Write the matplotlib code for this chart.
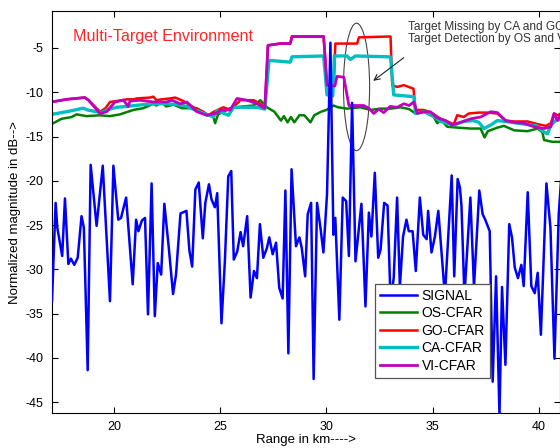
import matplotlib
matplotlib.use("Agg")
import matplotlib.pyplot as plt
from matplotlib.patches import Ellipse

plt.rcParams['font.family'] = ['Liberation Sans', 'DejaVu Sans']
plt.rcParams['axes.unicode_minus'] = False

# received signal (range km, normalized dB)
sig_x = [17.08, 17.25, 17.33, 17.56, 17.69, 17.85, 17.97, 18.13, 18.29, 18.47, 18.58, 18.76,
         18.90, 19.18, 19.47, 19.81, 19.97, 20.20, 20.33, 20.57, 20.88, 21.04, 21.15, 21.31,
         21.46, 21.60, 21.77, 21.92, 22.06, 22.22, 22.37, 22.58, 22.78, 22.92, 23.13, 23.41,
         23.55, 23.68, 23.83, 23.99, 24.18, 24.30, 24.47, 24.59, 24.75, 24.86, 25.06, 25.22,
         25.38, 25.52, 25.64, 25.80, 25.96, 26.08, 26.27, 26.43, 26.59, 26.73, 26.87, 27.03,
         27.20, 27.31, 27.47, 27.63, 27.78, 27.94, 28.07, 28.21, 28.36, 28.57, 28.73, 28.84,
         29.00, 29.12, 29.28, 29.40, 29.56, 29.72, 29.86, 30.03, 30.19, 30.33, 30.42, 30.61,
         30.77, 30.93, 31.06, 31.21, 31.37, 31.65, 31.84, 32.00, 32.12, 32.28, 32.44, 32.55,
         32.72, 32.88, 33.02, 33.17, 33.33, 33.46, 33.61, 33.77, 33.88, 34.06, 34.21, 34.40,
         34.56, 34.72, 34.79, 34.95, 35.11, 35.27, 35.42, 35.58, 35.90, 36.02, 36.18, 36.29,
         36.36, 36.50, 36.78, 36.95, 37.20, 37.36, 37.48, 37.69, 37.83, 37.99, 38.15, 38.27,
         38.43, 38.61, 38.74, 38.87, 39.02, 39.18, 39.29, 39.48, 39.65, 39.81, 39.95, 40.10,
         40.36, 40.55, 40.74, 40.94, 41.05]
sig_y = [-33.6, -22.5, -25.3, -28.5, -22.0, -29.4, -28.8, -29.5, -28.7, -24.0, -25.3, -41.4,
         -18.2, -25.1, -18.3, -33.6, -18.3, -24.4, -24.2, -21.9, -31.7, -24.4, -25.7, -24.5,
         -24.2, -35.1, -20.3, -35.3, -29.3, -30.6, -22.6, -27.6, -32.8, -30.6, -23.7, -23.4,
         -27.9, -29.7, -21.0, -20.2, -26.5, -22.5, -20.4, -22.1, -23.0, -21.4, -36.1, -29.1,
         -19.5, -18.9, -28.9, -28.0, -25.8, -27.4, -24.0, -33.2, -30.2, -31.0, -24.9, -28.7,
         -27.6, -26.4, -28.3, -27.0, -32.1, -33.3, -21.1, -39.5, -18.7, -27.4, -26.4, -27.6,
         -30.8, -23.8, -22.5, -42.4, -22.5, -25.3, -28.1, -21.5, -4.4, -26.1, -24.2, -35.7,
         -21.9, -22.3, -28.5, -11.2, -29.1, -22.6, -34.2, -23.6, -26.3, -19.1, -28.7, -27.8,
         -22.5, -22.8, -33.5, -31.0, -21.9, -32.0, -26.3, -24.4, -25.7, -25.7, -30.2, -21.9,
         -26.1, -26.6, -23.4, -28.1, -26.3, -23.4, -28.0, -33.0, -19.4, -30.8, -19.8, -20.8,
         -22.8, -33.0, -21.9, -32.0, -21.1, -23.8, -24.4, -25.7, -42.7, -30.8, -46.5, -32.0,
         -40.8, -24.9, -26.4, -29.8, -31.0, -29.5, -31.9, -21.3, -31.9, -32.7, -30.4, -37.4,
         -20.3, -25.3, -40.1, -23.8, -20.0]

# OS-CFAR threshold
os_x = [17.06, 17.53, 18.00, 18.24, 18.71, 19.34, 19.80, 20.28, 20.91, 21.38, 21.85, 22.00,
        22.25, 22.45, 22.80, 23.20, 23.90, 24.37, 24.65, 24.76, 24.90, 25.47, 26.10, 26.57,
        26.89, 27.20, 27.55, 27.86, 28.00, 28.17, 28.33, 28.49, 28.73, 28.96, 29.25, 29.43,
        29.75, 30.00, 30.34, 30.55, 30.97, 31.60, 32.08, 32.55, 33.02, 33.50, 33.89, 34.20,
        34.60, 35.06, 35.22, 35.40, 35.69, 36.20, 36.79, 37.26, 37.45, 37.60, 38.05, 38.36,
        38.84, 39.47, 39.94, 40.17, 40.25, 40.64, 41.05]
os_y = [-13.6, -13.0, -12.8, -12.5, -12.7, -12.6, -12.7, -12.5, -12.0, -11.8, -11.3, -11.5,
        -11.1, -11.6, -11.4, -11.8, -11.8, -12.6, -12.5, -13.5, -12.5, -11.8, -11.6, -11.5,
        -10.9, -11.7, -12.2, -13.2, -12.7, -13.4, -12.8, -13.4, -12.6, -12.6, -13.4, -12.6,
        -12.2, -12.0, -11.5, -11.7, -11.85, -11.7, -12.0, -11.85, -11.85, -11.7, -11.9, -12.4,
        -12.2, -12.8, -13.5, -13.1, -13.9, -14.0, -14.1, -14.1, -15.1, -14.4, -14.0, -13.8,
        -14.3, -14.4, -14.1, -14.5, -15.4, -15.6, -15.6]

# GO-CFAR threshold
go_x = [17.06, 17.77, 18.63, 18.80, 19.34, 19.60, 19.81, 20.12, 20.60, 20.91, 21.07, 21.70,
        21.85, 22.00, 22.25, 22.64, 22.88, 23.27, 23.74, 24.21, 24.44, 24.70, 25.15, 25.50,
        25.94, 26.57, 26.89, 27.10, 27.25, 27.83, 28.30, 28.38, 29.87, 30.03, 30.35, 30.42,
        31.45, 31.53, 33.02, 33.10, 33.33, 33.65, 34.10, 34.20, 34.59, 35.00, 35.38, 36.00,
        36.16, 36.47, 36.70, 37.18, 37.58, 38.05, 38.44, 38.84, 39.47, 39.94, 40.33, 40.57,
        40.72, 40.88, 41.05]
go_y = [-11.1, -10.8, -10.6, -10.9, -12.2, -11.8, -11.1, -11.0, -10.8, -10.8, -10.7, -10.6,
        -10.5, -10.9, -10.8, -10.7, -10.6, -11.0, -11.7, -12.2, -12.6, -12.2, -11.7, -12.0,
        -10.9, -10.9, -11.3, -11.8, -4.7, -4.5, -4.5, -3.7, -3.7, -9.2, -9.3, -4.5,
        -4.5, -3.8, -3.7, -9.2, -9.4, -9.2, -9.6, -12.0, -12.0, -12.4, -13.0, -13.6,
        -12.6, -12.8, -12.4, -12.3, -12.3, -12.4, -13.2, -13.3, -13.3, -13.6, -13.8, -13.5,
        -12.4, -12.6, -12.4]

# CA-CFAR threshold
ca_x = [17.06, 17.77, 18.55, 18.75, 19.18, 19.40, 19.81, 20.12, 20.60, 21.38, 21.85, 22.48,
        23.00, 23.43, 23.90, 24.37, 24.68, 24.85, 25.08, 25.39, 25.63, 26.10, 26.73, 27.10,
        27.30, 27.83, 28.30, 28.38, 29.87, 30.03, 30.30, 30.38, 30.97, 31.13, 31.37, 33.02,
        33.17, 34.12, 34.20, 34.60, 35.00, 35.38, 36.00, 36.47, 36.90, 37.18, 37.42, 37.74,
        38.05, 38.44, 39.31, 39.90, 40.25, 40.41, 40.57, 40.80, 41.05]
ca_y = [-12.5, -12.2, -11.8, -12.0, -12.2, -12.3, -11.9, -11.7, -11.6, -11.4, -11.3, -11.3,
        -11.4, -11.6, -12.1, -12.5, -12.8, -12.1, -12.3, -12.6, -11.7, -11.7, -11.7, -11.9,
        -6.4, -6.5, -6.6, -6.0, -5.9, -10.3, -10.4, -5.9, -5.9, -6.3, -5.9, -6.0,
        -10.3, -10.5, -12.4, -12.2, -12.6, -13.3, -13.7, -13.3, -13.2, -13.4, -14.1, -13.7,
        -13.2, -13.3, -13.6, -13.8, -14.5, -14.7, -13.7, -13.2, -13.0]

# VI-CFAR threshold
vi_x = [17.06, 17.77, 18.63, 18.80, 19.34, 19.65, 20.05, 20.44, 20.67, 20.75, 21.23, 21.85,
        22.48, 22.72, 23.11, 23.43, 23.90, 24.37, 24.76, 25.08, 25.47, 25.79, 26.26, 26.73,
        27.10, 27.25, 27.83, 28.30, 28.38, 29.87, 30.03, 30.40, 30.50, 30.82, 31.06, 31.76,
        32.00, 32.23, 32.47, 32.70, 33.00, 33.33, 33.65, 33.89, 34.12, 34.28, 34.59, 34.90,
        35.22, 35.61, 35.92, 36.32, 36.79, 37.26, 37.74, 38.05, 38.44, 38.84, 39.31, 39.78,
        40.25, 40.57, 40.72, 40.88, 41.05]
vi_y = [-11.1, -10.8, -10.6, -10.9, -12.4, -12.2, -11.1, -10.9, -11.6, -11.0, -10.9, -11.1,
        -11.1, -10.9, -11.3, -11.1, -12.2, -12.6, -12.4, -12.0, -12.0, -10.7, -10.9, -11.3,
        -11.8, -4.7, -4.5, -4.5, -3.7, -3.7, -9.2, -9.3, -8.2, -8.3, -11.5, -11.5,
        -11.8, -12.4, -11.9, -12.3, -11.6, -11.7, -11.3, -11.5, -11.1, -12.4, -12.2, -12.2,
        -12.9, -13.2, -13.7, -13.4, -13.0, -12.8, -12.2, -12.3, -13.2, -13.4, -13.5, -13.9,
        -14.1, -13.9, -12.4, -13.2, -12.4]

fig = plt.figure(figsize=(5.6, 4.48), dpi=100)
ax = fig.add_axes([52/560, 35/448, 508/560, 402/448])

ax.plot(sig_x, sig_y, color=(0, 0, 1), lw=1.8, label='SIGNAL', zorder=3)
ax.plot(os_x, os_y, color=(0, 0.5, 0), lw=1.8, label='OS-CFAR')
ax.plot(go_x, go_y, color=(1, 0, 0), lw=1.8, label='GO-CFAR')
ax.plot(ca_x, ca_y, color=(0, 0.75, 0.75), lw=2.4, label='CA-CFAR')
ax.plot(vi_x, vi_y, color=(0.75, 0, 0.75), lw=2.0, label='VI-CFAR')

ax.set_xlim(17.08, 41)
ax.set_ylim(-46.24, -0.82)
ax.set_xticks([20, 25, 30, 35, 40])
ax.set_yticks([-5, -10, -15, -20, -25, -30, -35, -40, -45])
ax.tick_params(direction='in', top=True, right=True, length=4, labelsize=9, pad=6)

ax.set_xlabel('Range in km---->', fontsize=9.5)
ax.xaxis.set_label_coords(0.5, -0.052)
ax.xaxis.label.set_va('top')
ax.set_ylabel('Normalized magnitude in dB-->', fontsize=9.5)
ax.yaxis.set_label_coords(-0.062, 0.5)

ax.text(18.07, -3.75, 'Multi-Target Environment', color=(1, 0.15, 0.15),
        fontsize=11.6, va='center', ha='left')
ax.text(33.83, -2.0, 'Target Missing by CA and GO\nTarget Detection by OS and VI',
        color='#333333', fontsize=8.6, va='top', ha='left', linespacing=1.0)

ax.add_patch(Ellipse((31.42, -9.4), 1.23, 14.4, fill=False, ec='#444444', lw=0.8))
ax.annotate('', xy=(32.1, -8.9), xytext=(33.75, -5.9),
            arrowprops=dict(arrowstyle='->', color='#222222', lw=0.8))

leg = ax.legend(loc='upper left', bbox_to_anchor=(0.636, 0.321), fontsize=10,
                frameon=True, fancybox=False, edgecolor='#555555', framealpha=1,
                handlelength=2.7, handletextpad=0.3, labelspacing=0.25,
                borderpad=0.35, borderaxespad=0)
leg.get_frame().set_linewidth(0.9)

fig.savefig('out.png', dpi=100)
